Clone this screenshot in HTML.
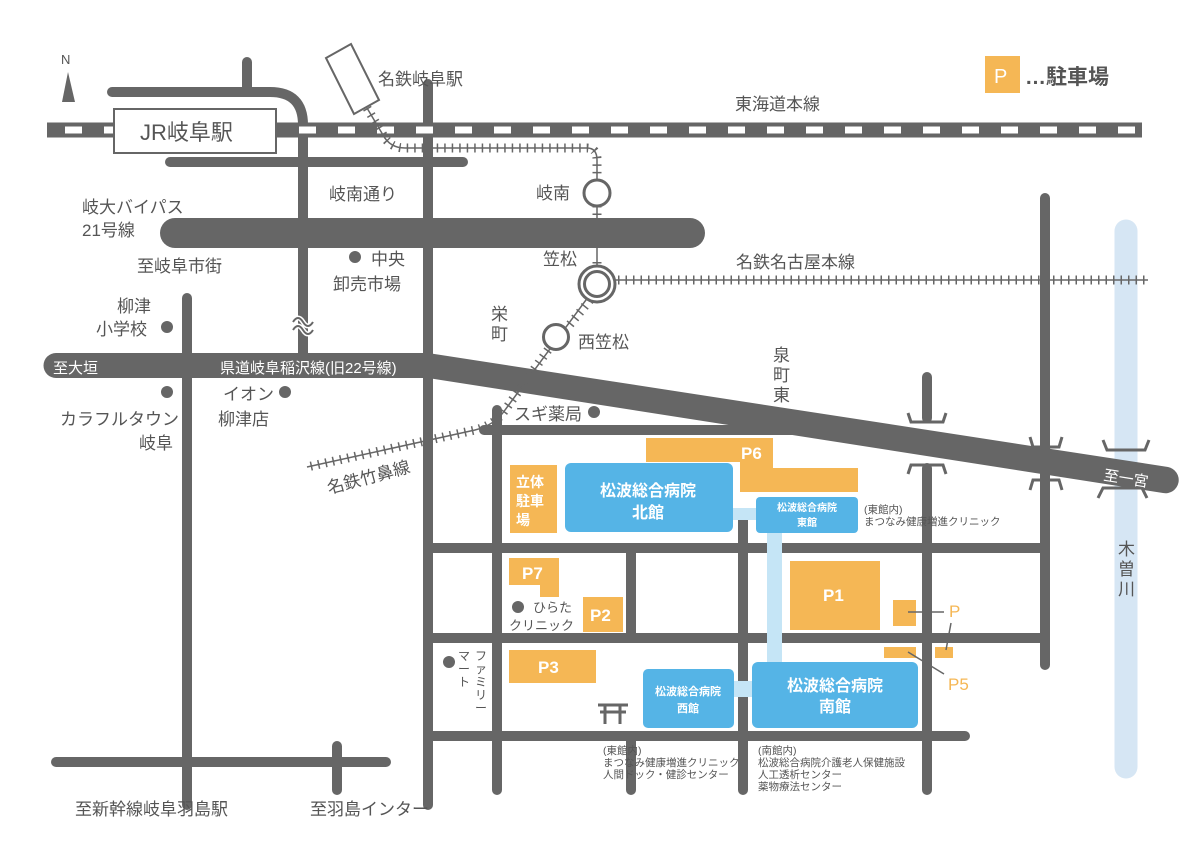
<!DOCTYPE html>
<html><head><meta charset="utf-8"><style>
html,body{margin:0;padding:0;background:#fff;}
svg{display:block;font-family:"Liberation Sans","Noto Sans CJK JP",sans-serif;}
.t{fill:#555;font-size:17px;}
.w{fill:#fff;font-size:16px;}
.s{fill:#555;font-size:10.5px;}
.r{stroke:#666;stroke-linecap:round;fill:none;}
.trk{stroke:#666;stroke-width:1.5;fill:none;}
.tk{stroke:#666;stroke-width:9;stroke-dasharray:1.5 6;fill:none;}
.o{fill:#f5b755;}
.b{fill:#55b4e6;}
.lb{fill:#c5e5f6;}
.wb{fill:#fff;font-weight:bold;}
</style></head><body>
<svg width="1200" height="864" viewBox="0 0 1200 864">
<!-- river -->
<line x1="1126" y1="231" x2="1126" y2="767" stroke="#d6e6f4" stroke-width="23" stroke-linecap="round"/>
<!-- N arrow -->
<text x="61" y="64" style="fill:#555;font-size:13px">N</text>
<polygon points="62,102 75,102 68,72" fill="#666"/>
<!-- roads -->
<path class="r" stroke-width="10" d="M247,62 V92"/>
<path class="r" stroke-width="10" d="M112,92 H270 Q303,92 303,125 V360"/>
<path class="r" stroke-width="10" d="M170,162 H463"/>
<path class="r" stroke-width="10" d="M428,84 V805"/>
<path class="r" stroke-width="30" d="M175,233 H690"/>
<path class="r" stroke-width="10" d="M187,298 V805"/>
<path class="r" stroke-width="10" d="M56,762 H386"/>
<path class="r" stroke-width="10" d="M337,746 V790"/>
<path class="r" stroke-width="10" d="M497,410 V790"/>
<path class="r" stroke-width="10" d="M484,430 H800"/>
<path class="r" stroke-width="10" d="M428,548 H1045"/>
<path class="r" stroke-width="10" d="M428,638 H1045"/>
<path class="r" stroke-width="10" d="M428,736 H965"/>
<path class="r" stroke-width="10" d="M631,548 V638"/>
<path class="r" stroke-width="10" d="M631,736 V790"/>
<path class="r" stroke-width="10" d="M743,520 V790"/>
<path class="r" stroke-width="10" d="M927,377 V418"/>
<path class="r" stroke-width="10" d="M927,468 V790"/>
<path class="r" stroke-width="10" d="M1045,198 V665"/>
<!-- bridge marks -->
<g stroke="#666" stroke-width="3" fill="none">
<path d="M908,413 L911,422 H943 L946,413"/>
<path d="M908,474 L911,465 H943 L946,474"/>
<path d="M1030,437 L1033,447 H1059 L1062,437"/>
<path d="M1030,490 L1033,480 H1059 L1062,490"/>
<path d="M1103,440 L1107,450 H1145 L1149,440"/>
<path d="M1098,498 L1103,488 H1142 L1147,498"/>
</g>
<!-- prefectural road -->
<path d="M56,353 H428 L1168,467 A13,13 0 0 1 1163,493 L428,378 H56 A12.5,12.5 0 0 1 56,353 Z" fill="#666"/>
<!-- wavy break -->
<path d="M293,322 q5,-8 10,0 t10,0 M293,330 q5,-8 10,0 t10,0" stroke="#fff" stroke-width="5" fill="none"/>
<path d="M293,322 q5,-8 10,0 t10,0 M293,330 q5,-8 10,0 t10,0" stroke="#666" stroke-width="2" fill="none"/>
<!-- JR line -->
<line x1="47" y1="130" x2="1142" y2="130" stroke="#666" stroke-width="15"/>
<line x1="65" y1="130" x2="1142" y2="130" stroke="#fff" stroke-width="7" stroke-dasharray="17 22"/>
<rect x="114" y="109" width="162" height="44" fill="#fff" stroke="#666" stroke-width="2"/>
<text x="140" y="140" style="fill:#555;font-size:22px">JR岐阜駅</text>
<!-- meitetsu station -->
<polygon points="326,58 351,44 379,100 354,114" fill="#fff" stroke="#666" stroke-width="2"/>
<!-- meitetsu tracks -->
<path class="trk" d="M367,108 L383,135 Q390,148 405,148 H587 Q597,148 597,160 V285 L505,410 Q495,425 475,430 L307,467"/>
<path class="tk" d="M367,108 L383,135 Q390,148 405,148 H587 Q597,148 597,160 V180 M597,206 V215 M597,262 V270 M590,300 L567,328 M548,350 L505,410 Q495,425 475,430 L307,467"/>
<path class="trk" d="M615,280 H1148"/>
<path class="tk" d="M618,280 H1148"/>
<circle cx="597" cy="193" r="13" fill="#fff" stroke="#666" stroke-width="3"/>
<circle cx="597" cy="284" r="18" fill="#fff" stroke="#666" stroke-width="3"/>
<circle cx="597" cy="284" r="12.5" fill="none" stroke="#666" stroke-width="3"/>
<circle cx="556" cy="337" r="12.5" fill="#fff" stroke="#666" stroke-width="3"/>
<!-- parking -->
<polygon class="o" points="646,438 773,438 773,468 858,468 858,492 740,492 740,462 646,462"/>
<rect class="o" x="510" y="465" width="47" height="68"/>
<polygon class="o" points="509,558 559,558 559,597 540,597 540,585 509,585"/>
<rect class="o" x="583" y="597" width="40" height="35"/>
<rect class="o" x="509" y="650" width="87" height="33"/>
<rect class="o" x="790" y="561" width="90" height="69"/>
<rect class="o" x="893" y="600" width="23" height="26"/>
<rect class="o" x="884" y="647" width="32" height="11"/>
<rect class="o" x="935" y="647" width="18" height="11"/>
<g stroke="#666" stroke-width="1.5"><line x1="908" y1="612" x2="944" y2="612"/><line x1="946" y1="650" x2="951" y2="623"/><line x1="908" y1="652" x2="944" y2="674"/></g>
<text x="949" y="617" style="fill:#f5b755;font-size:17px">P</text>
<text x="948" y="690" style="fill:#f5b755;font-size:17px">P5</text>
<g class="wb" style="font-size:17px">
<text x="741" y="459">P6</text><text x="522" y="579">P7</text><text x="590" y="621">P2</text>
<text x="538" y="673">P3</text><text x="823" y="601">P1</text>
<text x="516" y="487" style="font-size:14px">立体</text><text x="516" y="506" style="font-size:14px">駐車</text><text x="516" y="525" style="font-size:14px">場</text>
</g>
<!-- hospital -->
<rect class="lb" x="730" y="508" width="28" height="12"/>
<rect class="lb" x="767" y="530" width="15" height="135"/>
<rect class="lb" x="731" y="681" width="23" height="16"/>
<rect class="b" x="565" y="463" width="168" height="69" rx="6"/>
<rect class="b" x="756" y="497" width="102" height="36" rx="4"/>
<rect class="b" x="752" y="662" width="166" height="66" rx="6"/>
<rect class="b" x="643" y="669" width="91" height="59" rx="5"/>
<g class="wb" text-anchor="middle">
<text x="648" y="496" style="font-size:16px">松波総合病院</text><text x="648" y="518" style="font-size:16px">北館</text>
<text x="807" y="511" style="font-size:10px">松波総合病院</text><text x="807" y="526" style="font-size:10px">東館</text>
<text x="835" y="691" style="font-size:16px">松波総合病院</text><text x="835" y="712" style="font-size:16px">南館</text>
<text x="688" y="695" style="font-size:11px">松波総合病院</text><text x="688" y="712" style="font-size:11px">西館</text>
</g>
<!-- torii -->
<g stroke="#666" stroke-width="3"><line x1="598" y1="705" x2="628" y2="705"/><line x1="600" y1="712" x2="626" y2="712"/><line x1="605" y1="705" x2="605" y2="724"/><line x1="620" y1="705" x2="620" y2="724"/></g>
<!-- dots -->
<g fill="#666">
<circle cx="355" cy="257" r="6"/><circle cx="167" cy="327" r="6"/><circle cx="167" cy="392" r="6"/>
<circle cx="285" cy="392" r="6"/><circle cx="594" cy="412" r="6"/><circle cx="518" cy="607" r="6"/><circle cx="449" cy="662" r="6"/>
</g>
<!-- legend -->
<rect class="o" x="985" y="56" width="35" height="37"/>
<text x="994" y="83" style="fill:#fff;font-size:20px">P</text>
<text x="1025" y="84" style="fill:#555;font-size:21px;font-weight:bold">…駐車場</text>
<!-- labels -->
<g class="t">
<text x="378" y="85">名鉄岐阜駅</text>
<text x="735" y="110">東海道本線</text>
<text x="329" y="200">岐南通り</text>
<text x="82" y="213">岐大バイパス</text>
<text x="82" y="236">21号線</text>
<text x="536" y="199">岐南</text>
<text x="543" y="265">笠松</text>
<text x="736" y="268">名鉄名古屋本線</text>
<text x="371" y="265">中央</text>
<text x="333" y="290">卸売市場</text>
<text x="137" y="272">至岐阜市街</text>
<text x="117" y="312">柳津</text>
<text x="96" y="335">小学校</text>
<text x="491" y="320">栄</text><text x="491" y="340">町</text>
<text x="578" y="348">西笠松</text>
<text x="773" y="361">泉</text><text x="773" y="381">町</text><text x="773" y="401">東</text>
<text x="223" y="400">イオン</text>
<text x="218" y="425">柳津店</text>
<text x="60" y="425">カラフルタウン</text>
<text x="139" y="449">岐阜</text>
<text x="514" y="420">スギ薬局</text>
<text transform="translate(329,494) rotate(-15)">名鉄竹鼻線</text>
<text x="75" y="815">至新幹線岐阜羽島駅</text>
<text x="310" y="815">至羽島インター</text>
<text x="1118" y="555">木</text><text x="1118" y="575">曽</text><text x="1118" y="595">川</text>
</g>
<g class="w">
<text x="53" y="373" style="font-size:15px">至大垣</text>
<text x="220" y="373" style="font-size:15px">県道岐阜稲沢線(旧22号線)</text>
<text transform="translate(1103,480) rotate(9)" style="font-size:15px">至一宮</text>
</g>
<g style="fill:#555;font-size:13px">
<text x="533" y="612">ひらた</text><text x="509" y="630">クリニック</text>
</g>
<g style="fill:#555;font-size:12px" text-anchor="middle">
<text x="481" y="660">フ</text><text x="481" y="673">ァ</text><text x="481" y="686">ミ</text><text x="481" y="699">リ</text><text x="481" y="712">ー</text>
<text x="464" y="660">マ</text><text x="464" y="673">ー</text><text x="464" y="686">ト</text>
</g>
<g class="s">
<text x="603" y="754">(東館内)</text><text x="603" y="766">まつなみ健康増進クリニック</text><text x="603" y="778">人間ドック・健診センター</text>
<text x="758" y="754">(南館内)</text><text x="758" y="766">松波総合病院介護老人保健施設</text><text x="758" y="778">人工透析センター</text><text x="758" y="790">薬物療法センター</text>
<text x="864" y="513">(東館内)</text><text x="864" y="525">まつなみ健康増進クリニック</text>
</g>
</svg>
</body></html>
